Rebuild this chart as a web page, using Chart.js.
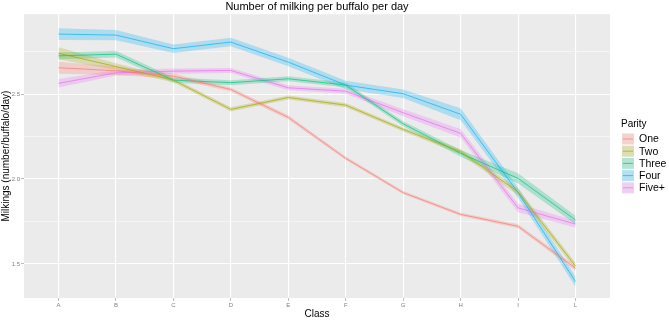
<!DOCTYPE html>
<html lang="en">
<head>
  <meta charset="UTF-8">
  <title>Number of milking per buffalo per day</title>
  <script src="https://cdn.jsdelivr.net/npm/chart.js"></script>
  <style>
    html, body { margin: 0; padding: 0; background: #ffffff; }
    #wrap { width: 669px; height: 320px; }
  </style>
</head>
<body>
  <div id="wrap"><canvas id="milkChart" width="669" height="320"></canvas></div>
  <script>
    // classes on the x axis
    const classes = ["A", "B", "C", "D", "E", "F", "G", "H", "I", "L"];
    const yTicks = [1.5, 1.75, 2.0, 2.25, 2.5, 2.75];

    // mean milkings per parity
    const one   = [2.655, 2.637, 2.606, 2.527, 2.363, 2.122, 1.920, 1.792, 1.722, 1.475];
    const two   = [2.740, 2.662, 2.582, 2.410, 2.480, 2.435, 2.292, 2.161, 1.925, 1.488];
    const three = [2.725, 2.735, 2.582, 2.567, 2.590, 2.553, 2.325, 2.151, 2.004, 1.759];
    const four  = [2.853, 2.847, 2.767, 2.806, 2.688, 2.553, 2.502, 2.381, 1.920, 1.396];
    const five  = [2.563, 2.625, 2.635, 2.639, 2.537, 2.517, 2.390, 2.269, 1.830, 1.735];

    // half width of the shaded bands
    const oneBand   = [0.035, 0.025, 0.015, 0.012, 0.012, 0.010, 0.010, 0.010, 0.012, 0.015];
    const twoBand   = [0.035, 0.020, 0.012, 0.012, 0.012, 0.012, 0.012, 0.015, 0.020, 0.020];
    const threeBand = [0.020, 0.020, 0.015, 0.015, 0.015, 0.015, 0.015, 0.020, 0.030, 0.025];
    const fourBand  = [0.035, 0.030, 0.025, 0.025, 0.025, 0.025, 0.025, 0.035, 0.030, 0.030];
    const fiveBand  = [0.025, 0.015, 0.015, 0.015, 0.015, 0.015, 0.020, 0.025, 0.025, 0.020];

    const parities = ["One", "Two", "Three", "Four", "Five+"];
    const colors = ["#F8766D", "#A3A500", "#00BF7D", "#00B0F6", "#E76BF3"];
    const means = [one, two, three, four, five];
    const bands = [oneBand, twoBand, threeBand, fourBand, fiveBand];

    const hexA = (hex, a) => {
      const n = parseInt(hex.slice(1), 16);
      return `rgba(${(n >> 16) & 255}, ${(n >> 8) & 255}, ${n & 255}, ${a})`;
    };

    const datasets = [];
    // lines first so they are drawn on top
    parities.forEach((p, k) => {
      datasets.push({
        label: p,
        data: means[k].map((v, i) => ({ x: i, y: v })),
        borderColor: hexA(colors[k], 0.85),
        borderWidth: 0.8,
        pointRadius: 0,
        fill: false,
        tension: 0,
        order: 0
      });
    });
    // ribbons: upper then lower filled to upper
    parities.forEach((p, k) => {
      const upIdx = datasets.length;
      datasets.push({
        label: p + " upper",
        data: means[k].map((v, i) => ({ x: i, y: v + bands[k][i] })),
        borderWidth: 0,
        borderColor: "rgba(0,0,0,0)",
        pointRadius: 0,
        fill: false,
        order: 1
      });
      datasets.push({
        label: p + " lower",
        data: means[k].map((v, i) => ({ x: i, y: v - bands[k][i] })),
        borderWidth: 0,
        borderColor: "rgba(0,0,0,0)",
        backgroundColor: hexA(colors[k], 0.26),
        pointRadius: 0,
        fill: { target: upIdx },
        order: 1
      });
    });

    const panelBg = {
      id: "panelBg",
      beforeDraw(chart) {
        const a = chart.chartArea, c = chart.ctx;
        c.save();
        c.fillStyle = "#EBEBEB";
        c.fillRect(a.left, a.top, a.right - a.left, a.bottom - a.top);
        c.restore();
      }
    };

    const parityLegend = {
      id: "parityLegend",
      afterDraw(chart) {
        const c = chart.ctx;
        c.save();
        c.fillStyle = "#000";
        c.font = "10px 'Liberation Sans', Arial, sans-serif";
        c.textBaseline = "middle";
        c.textAlign = "left";
        c.fillText("Parity", 621, 124);
        parities.forEach((p, k) => {
          const y = 139 + k * 12.2;
          c.fillStyle = "#F2F2F2";
          c.fillRect(622, y - 5.5, 12, 11);
          c.fillStyle = hexA(colors[k], 0.26);
          c.fillRect(622, y - 5.5, 12, 11);
          c.strokeStyle = hexA(colors[k], 0.85);
          c.lineWidth = 0.8;
          c.beginPath();
          c.moveTo(623, y);
          c.lineTo(633, y);
          c.stroke();
          c.fillStyle = "#000";
          c.font = "10.5px 'Liberation Sans', Arial, sans-serif";
          c.fillText(p, 639, y + 0.5);
        });
        c.restore();
      }
    };

    new Chart(document.getElementById("milkChart"), {
      type: "line",
      data: { datasets: datasets },
      plugins: [panelBg, parityLegend],
      options: {
        responsive: false,
        animation: false,
        layout: { padding: { left: 0, right: 59, top: 0, bottom: 0 } },
        plugins: {
          legend: { display: false },
          tooltip: { enabled: false },
          title: {
            display: true,
            fullSize: false,
            text: "Number of milking per buffalo per day",
            color: "#000",
            font: { family: "'Liberation Sans', Arial, sans-serif", size: 11, weight: "normal", lineHeight: 1.2 },
            padding: { top: 0, bottom: 1 }
          }
        },
        scales: {
          x: {
            type: "linear",
            min: -0.6,
            max: 9.6,
            afterBuildTicks(scale) {
              scale.ticks = classes.map((c, i) => ({ value: i }));
            },
            afterFit(scale) { scale.height = 22; },
            ticks: {
              autoSkip: false,
              maxRotation: 0,
              padding: 1,
              color: "#7f7f7f",
              font: { family: "'Liberation Sans', Arial, sans-serif", size: 6 },
              callback: (v) => classes[v]
            },
            grid: { color: "#FFFFFF", lineWidth: 1.1, tickLength: 3, tickColor: "#8a8a8a", tickWidth: 0.6 },
            border: { display: false },
            title: {
              display: true,
              text: "Class",
              color: "#000",
              font: { family: "'Liberation Sans', Arial, sans-serif", size: 10 },
              padding: { top: 0, bottom: 0 }
            }
          },
          y: {
            min: 1.3,
            max: 2.97,
            afterBuildTicks(scale) {
              scale.ticks = yTicks.map((v) => ({ value: v }));
            },
            afterFit(scale) { scale.width = 24; },
            ticks: {
              padding: 1,
              color: "#7f7f7f",
              font: { family: "'Liberation Sans', Arial, sans-serif", size: 6 },
              callback: (v) => (Math.abs(v * 2 - Math.round(v * 2)) < 1e-6 ? v.toFixed(1) : "")
            },
            grid: {
              color: "#FFFFFF",
              lineWidth: (ctx) => (ctx.tick && Math.abs(ctx.tick.value * 2 - Math.round(ctx.tick.value * 2)) < 1e-6 ? 1.1 : 0.5),
              tickLength: 3,
              tickWidth: 0.6,
              tickColor: (ctx) => (ctx.tick && Math.abs(ctx.tick.value * 2 - Math.round(ctx.tick.value * 2)) < 1e-6 ? "#8a8a8a" : "rgba(0,0,0,0)")
            },
            border: { display: false },
            title: {
              display: true,
              text: "Milkings (number/buffalo/day)",
              color: "#000",
              font: { family: "'Liberation Sans', Arial, sans-serif", size: 10 },
              padding: { top: 0, bottom: 0 }
            }
          }
        }
      }
    });
  </script>
</body>
</html>
